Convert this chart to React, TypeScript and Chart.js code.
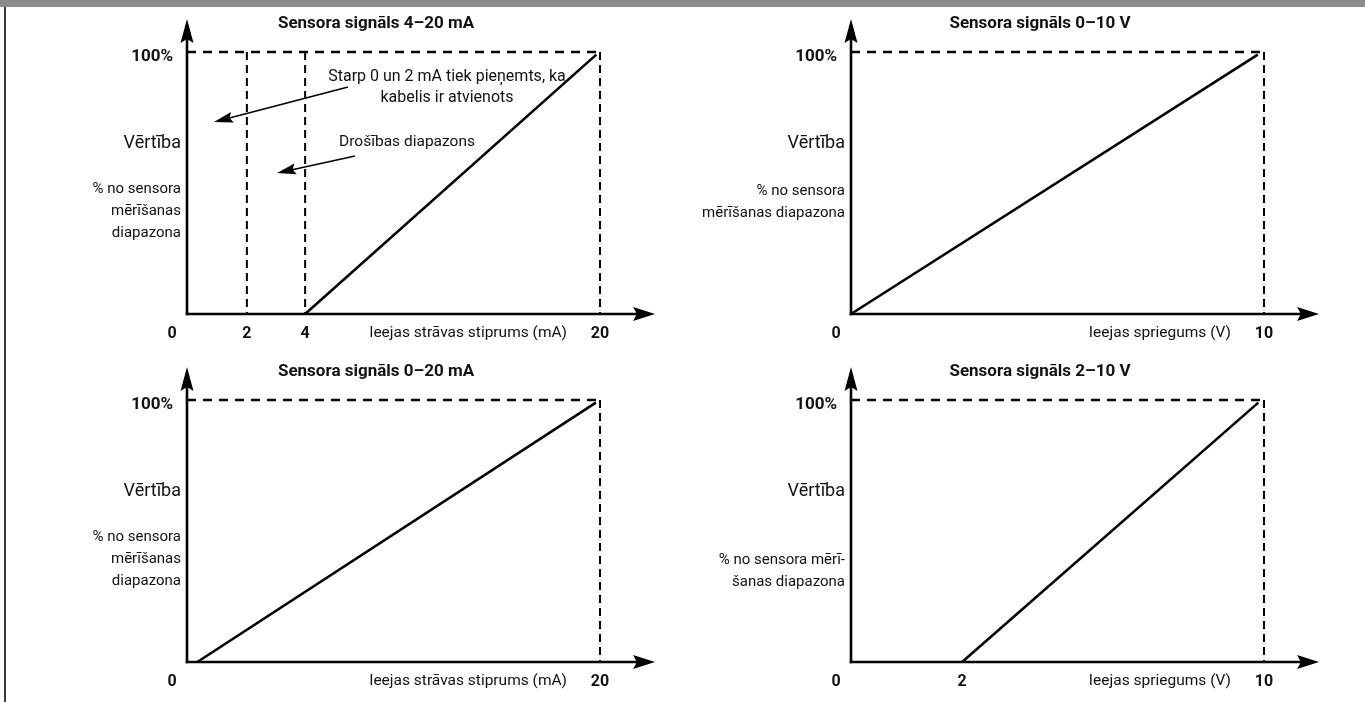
import React, { useEffect, useRef } from "react";
import { Chart, registerables, LinearScale } from "chart.js";

Chart.register(...registerables);

// ---------------- data ----------------
const panelTitles = [
  "Sensora signāls 4–20 mA",
  "Sensora signāls 0–10 V",
  "Sensora signāls 0–20 mA",
  "Sensora signāls 2–10 V",
];
const xAxisTitles = [
  "Ieejas strāvas stiprums (mA)",
  "Ieejas spriegums (V)",
  "Ieejas strāvas stiprums (mA)",
  "Ieejas spriegums (V)",
];
const yAxisName = "Vērtība";
const yTopLabel = "100%";
const yDescLines = [
  ["% no sensora", "mērīšanas", "diapazona"],
  ["% no sensora", "mērīšanas diapazona"],
  ["% no sensora", "mērīšanas", "diapazona"],
  ["% no sensora mērī-", "šanas diapazona"],
];
const xTicks = [
  [0, 2, 4, 20],
  [0, 10],
  [0, 20],
  [0, 2, 10],
];
const xMax = [20, 10, 20, 10];
const yMax = 100;
const signalX = [
  [4, 19.8],
  [0, 9.85],
  [0.5, 19.8],
  [2, 9.85],
];
const signalY = [
  [0, 99],
  [0, 99],
  [0, 99],
  [0, 99],
];
const guideX = [[2, 4], [], [], []];
const noteCable = ["Starp 0 un 2 mA tiek pieņemts, ka", "kabelis ir atvienots"];
const noteSafety = "Drošības diapazons";

// ---------------- layout ----------------
const FONT = "Roboto, 'Noto Sans', 'DejaVu Sans', sans-serif";
const TEXT = "#111";

type PanelLayout = {
  left: number;
  top: number;
  width: number;
  height: number;
  xFracs: number[];
  descTop: number;
};

const LAYOUT: PanelLayout[] = [
  { left: 0, top: 0, width: 664, height: 348, xFracs: [0, 0.145, 0.286, 1], descTop: 189 },
  { left: 664, top: 0, width: 701, height: 348, xFracs: [0, 1], descTop: 191 },
  { left: 0, top: 348, width: 664, height: 354, xFracs: [0, 1], descTop: 189 },
  { left: 664, top: 348, width: 701, height: 354, xFracs: [0, 0.269, 1], descTop: 212 },
];
const AREA = { left: 187, right: 600, top: 52, bottom: 314 };

// piecewise-linear x scale (the drawing is schematic, not to scale)
function registerPiecewise(id: string, vals: number[], fracs: number[]) {
  const toFrac = (v: number) => {
    let k = 0;
    while (k < vals.length - 2 && v > vals[k + 1]) k++;
    const t = (v - vals[k]) / (vals[k + 1] - vals[k]);
    return fracs[k] + t * (fracs[k + 1] - fracs[k]);
  };
  const toVal = (f: number) => {
    let k = 0;
    while (k < fracs.length - 2 && f > fracs[k + 1]) k++;
    const t = (f - fracs[k]) / (fracs[k + 1] - fracs[k]);
    return vals[k] + t * (vals[k + 1] - vals[k]);
  };
  class Piecewise extends LinearScale {
    static id = id;
    static defaults = LinearScale.defaults;
    getPixelForValue(value: number) {
      if (value === null || value === undefined || isNaN(value)) return NaN;
      return this.getPixelForDecimal(toFrac(value));
    }
    getValueForPixel(pixel: number) {
      return toVal(this.getDecimalForPixel(pixel));
    }
  }
  Chart.register(Piecewise as any);
}

LAYOUT.forEach((L, i) => registerPiecewise("piecewise" + i, xTicks[i], L.xFracs));

function arrowHead(
  ctx: CanvasRenderingContext2D,
  tx: number,
  ty: number,
  dx: number,
  dy: number,
  len: number,
  half: number,
  notch: number
) {
  const m = Math.hypot(dx, dy);
  const ux = dx / m;
  const uy = dy / m;
  const px = -uy;
  const py = ux;
  const bx = tx - ux * len;
  const by = ty - uy * len;
  ctx.beginPath();
  ctx.moveTo(tx, ty);
  ctx.lineTo(bx + px * half, by + py * half);
  ctx.lineTo(tx - ux * (len - notch), ty - uy * (len - notch));
  ctx.lineTo(bx - px * half, by - py * half);
  ctx.closePath();
  ctx.fill();
}

function annotationArrow(ctx: CanvasRenderingContext2D, sx: number, sy: number, tx: number, ty: number) {
  const dx = tx - sx;
  const dy = ty - sy;
  const m = Math.hypot(dx, dy);
  ctx.lineWidth = 1.6;
  ctx.beginPath();
  ctx.moveTo(sx, sy);
  ctx.lineTo(tx - (dx / m) * 12, ty - (dy / m) * 12);
  ctx.stroke();
  arrowHead(ctx, tx, ty, dx, dy, 19, 5.5, 3);
}

function makeOverlay(i: number) {
  return {
    id: "overlay" + i,
    afterDraw(chart: any) {
      const ctx: CanvasRenderingContext2D = chart.ctx;
      const xs = chart.scales.x;
      const ys = chart.scales.y;
      const x0 = xs.getPixelForValue(0);
      const y0 = ys.getPixelForValue(0);
      const xE = xs.getPixelForValue(xMax[i]);
      const yT = ys.getPixelForValue(yMax);
      const L = LAYOUT[i];
      ctx.save();
      ctx.fillStyle = "#000";
      ctx.strokeStyle = "#000";
      ctx.lineCap = "butt";

      // axes
      const yTip = yT - 33;
      const xTip = xE + 55;
      ctx.lineWidth = 2.6;
      ctx.beginPath();
      ctx.moveTo(x0, y0 + 1.3);
      ctx.lineTo(x0, yTip + 12);
      ctx.stroke();
      arrowHead(ctx, x0, yTip, 0, -1, 24, 6.5, 4);
      ctx.beginPath();
      ctx.moveTo(x0 - 1.3, y0);
      ctx.lineTo(xTip - 12, y0);
      ctx.stroke();
      arrowHead(ctx, xTip, y0, 1, 0, 22, 7, 4);

      // texts
      ctx.fillStyle = TEXT;
      ctx.textBaseline = "middle";
      ctx.textAlign = "center";
      ctx.font = `bold 17px ${FONT}`;
      ctx.fillText(panelTitles[i], 376, 24);

      ctx.textAlign = "right";
      ctx.font = `bold 17px ${FONT}`;
      ctx.fillText(yTopLabel, x0 - 14, yT + 5);

      ctx.font = `18px ${FONT}`;
      ctx.fillText(yAxisName, x0 - 6, 143);

      ctx.font = `15px ${FONT}`;
      yDescLines[i].forEach((t, k) => ctx.fillText(t, x0 - 6, L.descTop + k * 22));

      ctx.font = `15.5px ${FONT}`;
      ctx.fillText(xAxisTitles[i], xE - 33, y0 + 19);

      ctx.textAlign = "center";
      ctx.font = `bold 16px ${FONT}`;
      xTicks[i].forEach((v) => {
        const px = xs.getPixelForValue(v);
        ctx.fillText(String(v), v === 0 ? px - 15 : px, y0 + 20);
      });

      if (i === 0) {
        ctx.font = `16px ${FONT}`;
        ctx.textAlign = "center";
        ctx.fillText(noteCable[0], 447, 77);
        ctx.fillText(noteCable[1], 447, 98);
        ctx.font = `15.5px ${FONT}`;
        ctx.fillText(noteSafety, 407, 142);
        ctx.fillStyle = "#000";
        annotationArrow(ctx, 348, 87, 214, 122);
        annotationArrow(ctx, 355, 156, 277, 173);
      }
      ctx.restore();
    },
  };
}

function Panel({ i }: { i: number }) {
  const ref = useRef<HTMLCanvasElement | null>(null);
  const L = LAYOUT[i];
  useEffect(() => {
    if (!ref.current) return;
    const base = {
      borderColor: "#000",
      pointRadius: 0,
      clip: false as any,
      fill: false,
      tension: 0,
    };
    const datasets: any[] = [
      {
        ...base,
        data: [
          { x: 0, y: yMax },
          { x: xMax[i], y: yMax },
        ],
        borderWidth: 2.6,
        borderDash: [9, 7],
      },
      {
        ...base,
        data: [
          { x: xMax[i], y: yMax },
          { x: xMax[i], y: 0 },
        ],
        borderWidth: 2,
        borderDash: [8, 5],
      },
      ...guideX[i].map((g) => ({
        ...base,
        data: [
          { x: g, y: yMax },
          { x: g, y: 0 },
        ],
        borderWidth: 2,
        borderDash: [8, 5],
      })),
      {
        ...base,
        data: signalX[i].map((x, k) => ({ x, y: signalY[i][k] })),
        borderWidth: 2.6,
      },
    ];
    const chart = new Chart(ref.current, {
      type: "line",
      data: { datasets },
      options: {
        animation: false,
        responsive: false,
        events: [],
        layout: {
          padding: {
            left: AREA.left,
            right: L.width - AREA.right,
            top: AREA.top,
            bottom: L.height - AREA.bottom,
          },
        },
        plugins: {
          legend: { display: false },
          tooltip: { enabled: false },
          title: { display: false },
        },
        scales: {
          x: { type: ("piecewise" + i) as any, min: 0, max: xMax[i], display: false },
          y: { type: "linear", min: 0, max: yMax, display: false },
        },
      },
      plugins: [makeOverlay(i)],
    });
    return () => chart.destroy();
  }, [i]);
  return (
    <canvas
      ref={ref}
      width={L.width}
      height={L.height}
      style={{
        position: "absolute",
        left: L.left,
        top: L.top,
        width: L.width,
        height: L.height,
      }}
    />
  );
}

export default function App() {
  return (
    <div
      style={{
        position: "fixed",
        left: 0,
        top: 0,
        width: 1365,
        height: 702,
        background: "#fff",
        overflow: "hidden",
      }}
    >
      {LAYOUT.map((_, i) => (
        <Panel key={i} i={i} />
      ))}
      <div style={{ position: "absolute", left: 0, top: 0, width: 1365, height: 7, background: "#8c8c8c" }} />
      <div style={{ position: "absolute", left: 4, top: 7, width: 2, height: 695, background: "#3a3a3a" }} />
    </div>
  );
}
